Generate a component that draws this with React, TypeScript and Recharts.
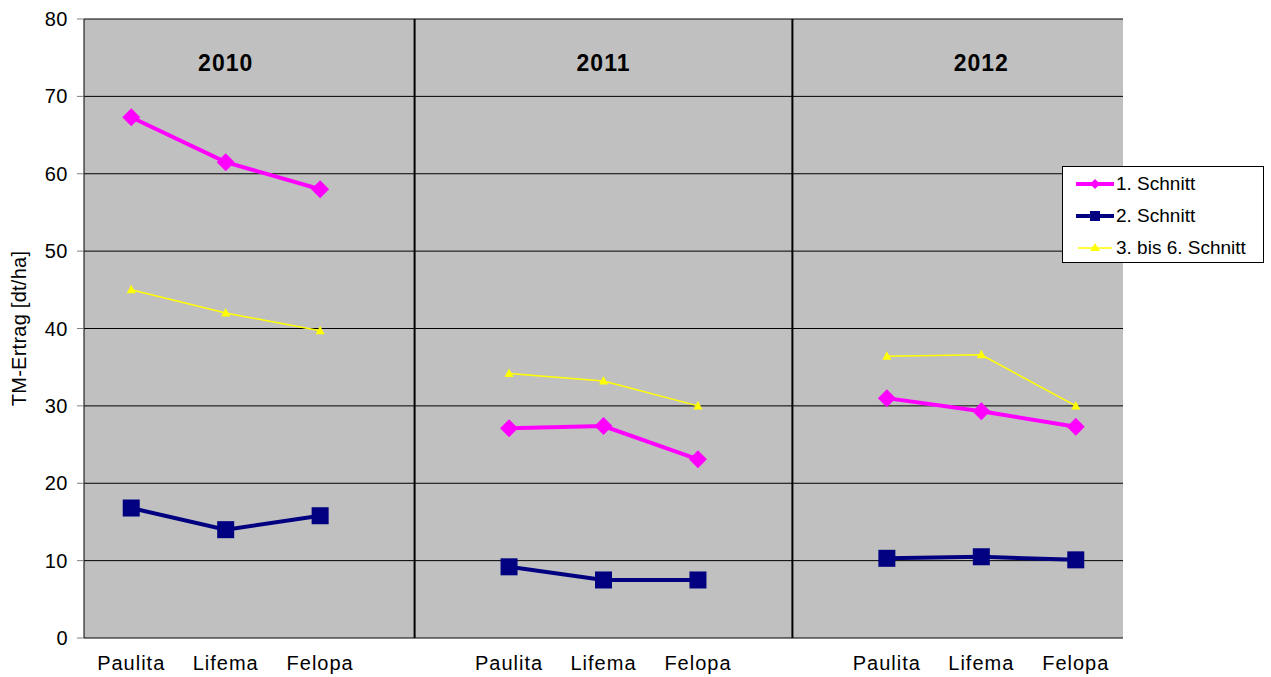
import React from 'react';
import {
  LineChart,
  Line,
  XAxis,
  YAxis,
  CartesianGrid,
  ReferenceLine,
  ReferenceDot
} from 'recharts';

const categories = ['Paulita', 'Lifema', 'Felopa', '', 'Paulita', 'Lifema', 'Felopa', '', 'Paulita', 'Lifema', 'Felopa'];
const schnitt1 = [67.3, 61.5, 58.0, null, 27.1, 27.4, 23.1, null, 31.0, 29.3, 27.3];
const schnitt2 = [16.8, 14.0, 15.8, null, 9.2, 7.5, 7.5, null, 10.3, 10.5, 10.1];
const schnitt3 = [45.0, 42.0, 39.7, null, 34.2, 33.2, 30.0, null, 36.4, 36.6, 30.0];
const years = ['2010', '2011', '2012'];
const yTicks = [0, 10, 20, 30, 40, 50, 60, 70, 80];
const seriesNames = ['1. Schnitt', '2. Schnitt', '3. bis 6. Schnitt'];

const data = categories.map((name, i) => ({
  x: i + 0.5,
  name,
  s1: schnitt1[i],
  s2: schnitt2[i],
  s3: schnitt3[i]
}));

const FONT = '"Liberation Sans", Arial, sans-serif';
const MAGENTA = '#FF00FF';
const NAVY = '#000080';
const YELLOW = '#FFFF00';

const boundaryTicks = categories.map((_, i) => i).concat([categories.length]);
const labelTicks = data.filter(d => d.name !== '').map(d => d.x);
const labelFor = (v: number) => categories[Math.floor(v)] || '';
// group separators sit on the empty categories, year titles on the middle ones
const separators = data.filter(d => d.name === '').map(d => d.x);
const yearPositions = years.map((_, i) => i * 4 + 1.5);

const Diamond = (props: any) => {
  const { cx, cy, index } = props;
  if (cx == null || cy == null || props.value == null) return <g key={`d-${index}`} />;
  const r = 9;
  return (
    <path
      key={`d-${index}`}
      d={`M${cx},${cy - r}L${cx + r},${cy}L${cx},${cy + r}L${cx - r},${cy}Z`}
      fill={MAGENTA}
    />
  );
};

const Square = (props: any) => {
  const { cx, cy, index } = props;
  if (cx == null || cy == null || props.value == null) return <g key={`s-${index}`} />;
  const r = 8.5;
  return <rect key={`s-${index}`} x={cx - r} y={cy - r} width={2 * r} height={2 * r} fill={NAVY} />;
};

const Triangle = (props: any) => {
  const { cx, cy, index } = props;
  if (cx == null || cy == null || props.value == null) return <g key={`t-${index}`} />;
  return (
    <path
      key={`t-${index}`}
      d={`M${cx},${cy - 5}L${cx + 4.5},${cy + 3.5}L${cx - 4.5},${cy + 3.5}Z`}
      fill={YELLOW}
    />
  );
};

const YLabel = (props: any) => {
  const vb = props.viewBox;
  const x = 19;
  const y = vb.y + vb.height / 2;
  return (
    <text
      x={x}
      y={y}
      transform={`rotate(-90, ${x}, ${y})`}
      textAnchor="middle"
      dominantBaseline="central"
      fontFamily={FONT}
      fontSize={20}
      letterSpacing={0.25}
      fill="#000"
    >
      TM-Ertrag [dt/ha]
    </text>
  );
};

const LegendBox = () => {
  const markers = [
    <svg width={38} height={12} key="m1">
      <line x1={0} y1={6} x2={38} y2={6} stroke={MAGENTA} strokeWidth={4} />
      <path d="M19,1L24,6L19,11L14,6Z" fill={MAGENTA} />
    </svg>,
    <svg width={38} height={12} key="m2">
      <line x1={0} y1={6} x2={38} y2={6} stroke={NAVY} strokeWidth={4} />
      <rect x={14} y={1} width={10} height={10} fill={NAVY} />
    </svg>,
    <svg width={38} height={12} key="m3">
      <line x1={2} y1={6} x2={36} y2={6} stroke={YELLOW} strokeWidth={1.5} />
      <path d="M19,1L24,9L14,9Z" fill={YELLOW} />
    </svg>
  ];
  return (
    <div
      style={{
        position: 'absolute',
        left: 1062,
        top: 166,
        width: 200,
        height: 95,
        background: '#fff',
        border: '1px solid #000',
        fontFamily: FONT,
        fontSize: 19,
        color: '#000',
        boxSizing: 'content-box'
      }}
    >
      {seriesNames.map((n, i) => (
        <div
          key={n}
          style={{ position: 'absolute', left: 13, top: 6 + i * 32, height: 22, display: 'flex', alignItems: 'center' }}
        >
          {markers[i]}
          <span style={{ marginLeft: 2 }}>{n}</span>
        </div>
      ))}
    </div>
  );
};

const YearLabel = (text: string) => (props: any) => {
  const vb = props.viewBox;
  return (
    <text
      x={vb.x}
      y={vb.y + 1}
      textAnchor="middle"
      dominantBaseline="central"
      fontFamily={FONT}
      fontWeight="bold"
      fontSize={23}
      letterSpacing={1}
      fill="#000"
    >
      {text}
    </text>
  );
};

export default function App() {
  return (
    <div style={{ position: 'absolute', left: 0, top: 0, width: 1271, height: 677, background: '#fff' }}>
      <LineChart
        width={1271}
        height={677}
        data={data}
        margin={{ top: 19, right: 148, bottom: 0, left: 0 }}
      >
        <CartesianGrid vertical={false} fill="#C0C0C0" stroke="#000" fillOpacity={1} />
        <XAxis
          dataKey="x"
          type="number"
          domain={[0, categories.length]}
          ticks={boundaryTicks}
          tick={() => <g />}
          tickLine={{ stroke: '#808080' }}
          axisLine={{ stroke: '#808080', strokeWidth: 2 }}
          tickSize={7}
          height={0}
          interval={0}
        />
        <XAxis
          xAxisId="labels"
          dataKey="x"
          type="number"
          domain={[0, categories.length]}
          ticks={labelTicks}
          tickFormatter={labelFor}
          tickLine={false}
          axisLine={false}
          tick={{ fill: '#000', fontSize: 20, fontFamily: FONT, letterSpacing: 1 }}
          tickMargin={12}
          height={39}
          interval={0}
        />
        <XAxis
          xAxisId="top"
          orientation="top"
          type="number"
          domain={[0, categories.length]}
          tick={false}
          tickLine={false}
          axisLine={{ stroke: '#808080', strokeWidth: 2 }}
          height={0}
        />
        <YAxis
          domain={[0, 80]}
          ticks={yTicks}
          width={84}
          interval={0}
          tickLine={{ stroke: '#808080' }}
          axisLine={{ stroke: '#000' }}
          tickSize={7}
          tick={{ fill: '#000', fontSize: 20, fontFamily: FONT, letterSpacing: 0.5 }}
          tickMargin={9}
          label={<YLabel />}
        />
        <YAxis
          yAxisId="right"
          orientation="right"
          domain={[0, 80]}
          tick={false}
          tickLine={false}
          axisLine={{ stroke: '#808080', strokeWidth: 2 }}
          width={0}
        />
        {separators.map(s => (
          <ReferenceLine key={`sep-${s}`} x={s} stroke="#000" strokeWidth={2} />
        ))}
        {years.map((y, i) => (
          <ReferenceDot
            key={y}
            x={yearPositions[i]}
            y={74.5}
            r={0}
            fill="none"
            stroke="none"
            label={YearLabel(y)}
          />
        ))}
        <Line
          dataKey="s3"
          name={seriesNames[2]}
          stroke={YELLOW}
          strokeWidth={1.5}
          dot={Triangle}
          activeDot={false}
          isAnimationActive={false}
        />
        <Line
          dataKey="s2"
          name={seriesNames[1]}
          stroke={NAVY}
          strokeWidth={4}
          dot={Square}
          activeDot={false}
          isAnimationActive={false}
        />
        <Line
          dataKey="s1"
          name={seriesNames[0]}
          stroke={MAGENTA}
          strokeWidth={4}
          dot={Diamond}
          activeDot={false}
          isAnimationActive={false}
        />
      </LineChart>
      <LegendBox />
    </div>
  );
}
